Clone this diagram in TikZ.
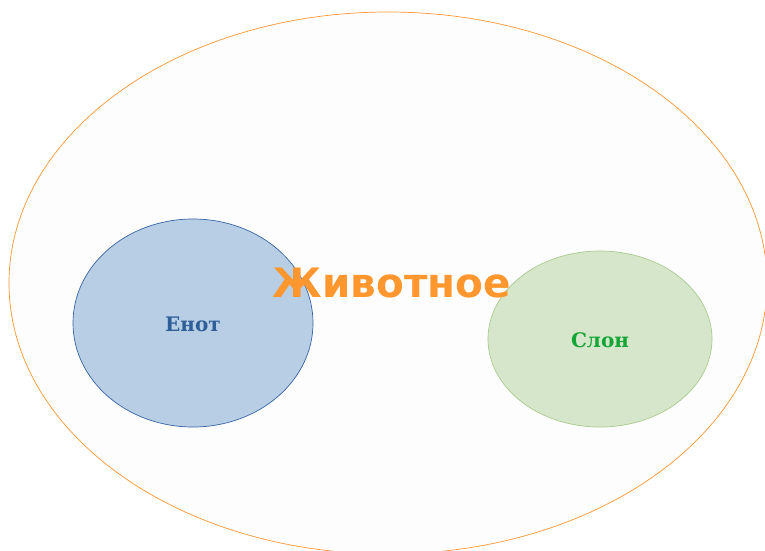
\documentclass[tikz,border=0pt]{standalone}
\usepackage{fontspec}
\usetikzlibrary{shapes.geometric}
\newfontfamily\labelsans{DejaVu Sans}
\newfontfamily\labelserif{DejaVu Serif}
\definecolor{outerfill}{RGB}{253,253,253}
\definecolor{outerline}{RGB}{255,150,50}
\definecolor{titlecol}{RGB}{255,150,46}
\definecolor{bluefill}{RGB}{184,206,229}
\definecolor{blueline}{RGB}{55,100,165}
\definecolor{bluetext}{RGB}{46,95,152}
\definecolor{greenfill}{RGB}{214,230,202}
\definecolor{greenline}{RGB}{168,204,145}
\definecolor{greentext}{RGB}{20,165,55}
\tikzset{
  setshape/.style={ellipse, inner sep=0pt, line width=0.7pt},
  innerlabel/.style={font=\labelserif\bfseries\fontsize{20}{24}\selectfont},
}
\begin{document}
\begin{tikzpicture}[x=1pt,y=1pt]
\useasboundingbox (0,0) rectangle (765,-550);
\clip (0,0) rectangle (765,-550);
\node[setshape, draw=outerline, fill=outerfill, minimum width=758pt, minimum height=542pt] (animal) at (388,-283) {};
\node[setshape, draw=blueline, fill=bluefill, minimum width=240pt, minimum height=208pt] (raccoon) at (193,-323) {};
\node[setshape, draw=greenline, fill=greenfill, minimum width=224pt, minimum height=176pt] (elephant) at (600,-339) {};
\node[innerlabel, text=bluetext] (raccoonlabel) at (193,-324) {Енот};
\node[innerlabel, text=greentext] (elephantlabel) at (600,-340) {Слон};
\node[font=\labelsans\bfseries\fontsize{40.5}{46}\selectfont, text=titlecol, inner sep=0pt] (animallabel) at (392,-283) {Животное};
\end{tikzpicture}
\end{document}
